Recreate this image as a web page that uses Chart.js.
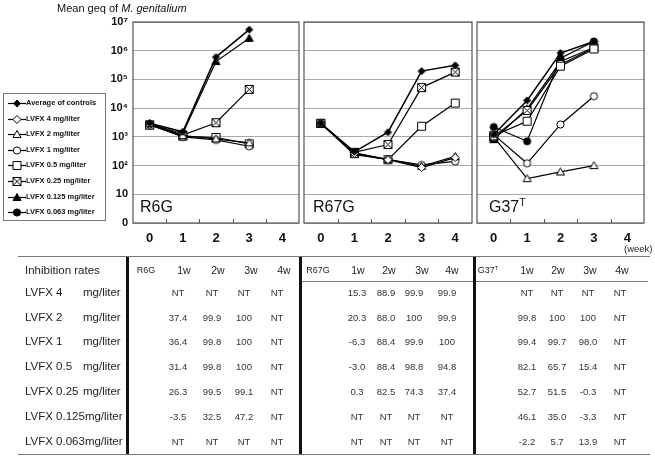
<!DOCTYPE html>
<html lang="en">
<head>
<meta charset="UTF-8">
<title>Mean geq of M. genitalium</title>
<script src="https://cdn.jsdelivr.net/npm/chart.js"></script>
<style>
  body { margin: 0; background: #fff; font-family: Arial, "Liberation Sans", sans-serif; color: #111; }
  #page { position: relative; width: 655px; height: 457px; overflow: hidden; }
  canvas.panel { position: absolute; left: 0; top: 0; }
  .abs { position: absolute; white-space: nowrap; }
  .c { transform: translate(-50%, -50%); }
  .l { transform: translate(0, -50%); }
  .hline { position: absolute; height: 1px; background: #777; }
  .vline { position: absolute; width: 3px; background: #111; }
  #legend { position: absolute; left: 3px; top: 93px; width: 101px; height: 126px; border: 1px solid #777; }
  .leg { position: absolute; left: 0; width: 100px; height: 12px; font-size: 7.5px; font-weight: bold; line-height: 12px; white-space: nowrap; }
  .leg canvas { position: absolute; left: 3px; top: 0; }
  .leg span { position: absolute; left: 22px; top: 0; white-space: nowrap; }
  .plabel { font-size: 16px; }
  .hdr { font-size: 10.5px; color: #222; }
  .small { font-size: 9px; color: #222; }
  .val { font-size: 9.5px; color: #333; }
  .row { font-size: 11.5px; color: #222; }
  sup { font-size: 65%; vertical-align: 0; position: relative; top: -0.55em; }
</style>
</head>
<body>
<div id="page">
  <canvas class="panel" id="p1" width="655" height="457"></canvas>
  <canvas class="panel" id="p2" width="655" height="457"></canvas>
  <canvas class="panel" id="p3" width="655" height="457"></canvas>
  <div class="abs" style="left:57px; top:2px; font-size:11px;">Mean geq of <i>M. genitalium</i></div>
  <div id="legend"></div>
  <div class="abs plabel" style="left:140px; top:198px;">R6G</div>
  <div class="abs plabel" style="left:313px; top:198px;">R67G</div>
  <div class="abs plabel" style="left:489px; top:198px;">G37<sup>T</sup></div>
  <div class="abs" style="left:624px; top:243px; font-size:9.5px; color:#222;">(week)</div>
  <div id="table"></div>
</div>
<script>
  // week categories and y ticks
  const weeks = ['0', '1', '2', '3', '4'];
  const yTickValues = [1, 10, 100, 1000, 10000, 100000, 1000000, 10000000];
  const yTickLabels = ['0', '10', '10²', '10³', '10⁴', '10⁵', '10⁶', '10⁷'];

  const seriesNames = ['Average of controls', 'LVFX 4 mg/liter', 'LVFX 2 mg/liter', 'LVFX 1 mg/liter',
    'LVFX 0.5 mg/liter', 'LVFX 0.25 mg/liter', 'LVFX 0.125 mg/liter', 'LVFX 0.063 mg/liter'];
  const markerKinds = ['fdiamond', 'odiamond', 'otriangle', 'ocircle', 'osquare', 'xbox', 'ftriangle', 'fcircle'];

  // R6G
  const r6gControls = [3000, 1500, 600000, 5400000, null];
  const r6gLvfx4 = null;
  const r6gLvfx2 = [2900, 1100, 850, 620, null];
  const r6gLvfx1 = [2700, 1000, 780, 470, null];
  const r6gLvfx05 = [2600, 1050, 950, 570, null];
  const r6gLvfx025 = [2600, 1150, 3100, 45000, null];
  const r6gLvfx0125 = [2800, 1300, 420000, 2700000, null];
  const r6gLvfx0063 = null;

  // R67G
  const r67gControls = [2950, 300, 1450, 195000, 310000];
  const r67gLvfx4 = [2950, 260, 160, 85, 190];
  const r67gLvfx2 = [2950, 240, 165, 95, 210];
  const r67gLvfx1 = [2950, 280, 160, 105, 140];
  const r67gLvfx05 = [2950, 270, 160, 2350, 15000];
  const r67gLvfx025 = [2950, 290, 540, 52000, 180000];
  const r67gLvfx0125 = null;
  const r67gLvfx0063 = null;

  // G37T
  const g37Controls = [1200, 18600, 830000, 2100000, null];
  const g37Lvfx4 = null;
  const g37Lvfx2 = [1000, 35, 60, 100, null];
  const g37Lvfx1 = [1200, 120, 2700, 26000, null];
  const g37Lvfx05 = [1100, 3500, 290000, 1150000, null];
  const g37Lvfx025 = [1000, 8300, 330000, 1250000, null];
  const g37Lvfx0125 = [800, 9500, 420000, 1300000, null];
  const g37Lvfx0063 = [2200, 700, 550000, 2100000, null];

  // inhibition rates table
  const rateRowNames = ['LVFX 4', 'LVFX 2', 'LVFX 1', 'LVFX 0.5', 'LVFX 0.25', 'LVFX 0.125', 'LVFX 0.063'];
  const rateWeeks = ['1w', '2w', '3w', '4w'];
  const r6gRates = [
    ['NT', 'NT', 'NT', 'NT'], ['37.4', '99.9', '100', 'NT'], ['36.4', '99.8', '100', 'NT'],
    ['31.4', '99.8', '100', 'NT'], ['26.3', '99.5', '99.1', 'NT'], ['-3.5', '32.5', '47.2', 'NT'],
    ['NT', 'NT', 'NT', 'NT']];
  const r67gRates = [
    ['15.3', '88.9', '99.9', '99.9'], ['20.3', '88.0', '100', '99.9'], ['-6.3', '88.4', '99.9', '100'],
    ['-3.0', '88.4', '98.8', '94.8'], ['0.3', '82.5', '74.3', '37.4'], ['NT', 'NT', 'NT', 'NT'],
    ['NT', 'NT', 'NT', 'NT']];
  const g37Rates = [
    ['NT', 'NT', 'NT', 'NT'], ['99.8', '100', '100', 'NT'], ['99.4', '99.7', '98.0', 'NT'],
    ['82.1', '65.7', '15.4', 'NT'], ['52.7', '51.5', '-0.3', 'NT'], ['46.1', '35.0', '-3.3', 'NT'],
    ['-2.2', '5.7', '13.9', 'NT']];

  function drawMarker(g, kind, cx, cy) {
    g.lineWidth = 1;
    g.strokeStyle = '#000';
    g.fillStyle = kind.charAt(0) === 'f' ? '#000' : '#fff';
    g.beginPath();
    if (kind.endsWith('diamond')) {
      const r = kind === 'fdiamond' ? 3.5 : 4;
      g.moveTo(cx, cy - r); g.lineTo(cx + r, cy); g.lineTo(cx, cy + r); g.lineTo(cx - r, cy); g.closePath();
    } else if (kind.endsWith('triangle')) {
      g.moveTo(cx, cy - 4); g.lineTo(cx + 4, cy + 3); g.lineTo(cx - 4, cy + 3); g.closePath();
    } else if (kind.endsWith('circle')) {
      g.arc(cx, cy, 3.6, 0, Math.PI * 2);
    } else {
      g.rect(cx - 4, cy - 4, 8, 8);
    }
    g.fill();
    g.stroke();
    if (kind === 'xbox') {
      g.beginPath();
      g.moveTo(cx - 4, cy - 4); g.lineTo(cx + 4, cy + 4);
      g.moveTo(cx + 4, cy - 4); g.lineTo(cx - 4, cy + 4);
      g.stroke();
    }
  }

  function markerImage(kind) {
    const c = document.createElement('canvas');
    c.width = 11; c.height = 11;
    drawMarker(c.getContext('2d'), kind, 5.5, 5.5);
    return c;
  }
  const markerImgs = markerKinds.map(markerImage);

  // border + small inner ticks
  const frame = {
    id: 'frame',
    afterDraw(chart) {
      const { ctx, chartArea: a, scales: { x } } = chart;
      ctx.save();
      ctx.strokeStyle = '#555';
      ctx.lineWidth = 1.2;
      ctx.strokeRect(a.left, a.top, a.right - a.left, a.bottom - a.top);
      ctx.lineWidth = 1;
      ctx.beginPath();
      for (let i = 0; i < weeks.length - 1; i++) {
        const px = Math.round((x.getPixelForValue(i) + x.getPixelForValue(i + 1)) / 2) + 0.5;
        ctx.moveTo(px, a.bottom);
        ctx.lineTo(px, a.bottom - 4);
      }
      ctx.stroke();
      ctx.restore();
    }
  };

  function makePanel(id, series, area, showY) {
    const datasets = [];
    series.forEach((data, i) => {
      if (!data) return;
      datasets.push({
        label: seriesNames[i],
        data: data,
        borderColor: '#000',
        backgroundColor: '#000',
        borderWidth: i === 0 ? 1.5 : 1.2,
        pointStyle: markerImgs[i],
        pointRadius: 5,
        tension: 0,
        clip: false
      });
    });
    const yw = showY ? 33 : 0;
    const xh = 30;
    new Chart(document.getElementById(id), {
      type: 'line',
      data: { labels: weeks, datasets },
      options: {
        responsive: false,
        animation: false,
        devicePixelRatio: 1,
        layout: {
          padding: { left: area.left - yw, right: 655 - area.right, top: area.top, bottom: 457 - area.bottom - xh }
        },
        plugins: { legend: { display: false }, tooltip: { enabled: false } },
        scales: {
          x: {
            type: 'category',
            offset: true,
            grid: { display: false, drawTicks: false },
            border: { display: false },
            ticks: {
              color: '#111',
              font: { family: 'Arial', size: 13, weight: 'bold' },
              padding: 8,
              maxRotation: 0,
              autoSkip: false
            },
            afterFit: (s) => { s.height = xh; }
          },
          y: {
            type: 'logarithmic',
            min: 1,
            max: 10000000,
            afterBuildTicks: (s) => { s.ticks = yTickValues.map(v => ({ value: v })); },
            grid: { color: '#aaa', drawTicks: false, lineWidth: 1 },
            border: { display: false },
            ticks: {
              display: showY,
              color: '#111',
              font: { family: 'Arial', size: 11, weight: 'bold' },
              padding: 5,
              callback: (v) => yTickLabels[Math.round(Math.log10(v))]
            },
            afterFit: (s) => { s.width = yw; }
          }
        }
      },
      plugins: [frame]
    });
  }

  makePanel('p1', [r6gControls, r6gLvfx4, r6gLvfx2, r6gLvfx1, r6gLvfx05, r6gLvfx025, r6gLvfx0125, r6gLvfx0063],
    { left: 133, right: 299, top: 22, bottom: 223 }, true);
  makePanel('p2', [r67gControls, r67gLvfx4, r67gLvfx2, r67gLvfx1, r67gLvfx05, r67gLvfx025, r67gLvfx0125, r67gLvfx0063],
    { left: 304, right: 472, top: 22, bottom: 223 }, false);
  makePanel('p3', [g37Controls, g37Lvfx4, g37Lvfx2, g37Lvfx1, g37Lvfx05, g37Lvfx025, g37Lvfx0125, g37Lvfx0063],
    { left: 477, right: 644, top: 22, bottom: 223 }, false);

  // legend
  const legend = document.getElementById('legend');
  seriesNames.forEach((name, i) => {
    const row = document.createElement('div');
    row.className = 'leg';
    row.style.top = (3 + i * 15.6) + 'px';
    const c = document.createElement('canvas');
    c.width = 20; c.height = 12;
    const g = c.getContext('2d');
    g.strokeStyle = '#000'; g.lineWidth = 1.2;
    g.beginPath(); g.moveTo(1, 6.5); g.lineTo(19, 6.5); g.stroke();
    drawMarker(g, markerKinds[i], 10, 6.5);
    const s = document.createElement('span');
    s.textContent = name;
    row.appendChild(c); row.appendChild(s);
    legend.appendChild(row);
  });

  // table
  const table = document.getElementById('table');
  function put(html, cls, x, y) {
    const d = document.createElement('div');
    d.className = 'abs ' + cls;
    d.style.left = x + 'px'; d.style.top = y + 'px';
    d.innerHTML = html;
    table.appendChild(d);
  }
  function line(cls, x, y, w, h) {
    const d = document.createElement('div');
    d.className = cls;
    d.style.left = x + 'px'; d.style.top = y + 'px';
    if (w) d.style.width = w + 'px';
    if (h) d.style.height = h + 'px';
    table.appendChild(d);
  }
  line('hline', 18, 256, 632);
  line('hline', 302, 281, 346);
  line('hline', 18, 454, 632);
  [126, 299, 473].forEach(x => line('vline', x, 257, 0, 197));

  const headerY = 270;
  put('Inhibition rates', 'row l', 25, headerY);
  const groups = [
    { name: 'R6G', nameX: 146, hx: [184, 218, 251, 284], vx: [178, 212, 244, 277], rates: r6gRates },
    { name: 'R67G', nameX: 318, hx: [358, 389, 422, 452], vx: [357, 386, 414, 447], rates: r67gRates },
    { name: 'G37<sup>T</sup>', nameX: 488, hx: [527, 558, 590, 622], vx: [527, 557, 588, 620], rates: g37Rates }
  ];
  groups.forEach(gr => {
    put(gr.name, 'small c', gr.nameX, headerY);
    rateWeeks.forEach((w, j) => put(w, 'hdr c', gr.hx[j], headerY));
    gr.rates.forEach((r, i) => {
      const y = 291.7 + i * 24.8;
      r.forEach((v, j) => put(v, 'val c', gr.vx[j], y));
    });
  });
  rateRowNames.forEach((n, i) => {
    const y = 291.7 + i * 24.8;
    if (n.length > 9) {
      put(n + 'mg/liter', 'row l', 25, y);
    } else {
      put(n, 'row l', 25, y);
      put('mg/liter', 'row l', 83, y);
    }
  });
</script>
</body>
</html>
